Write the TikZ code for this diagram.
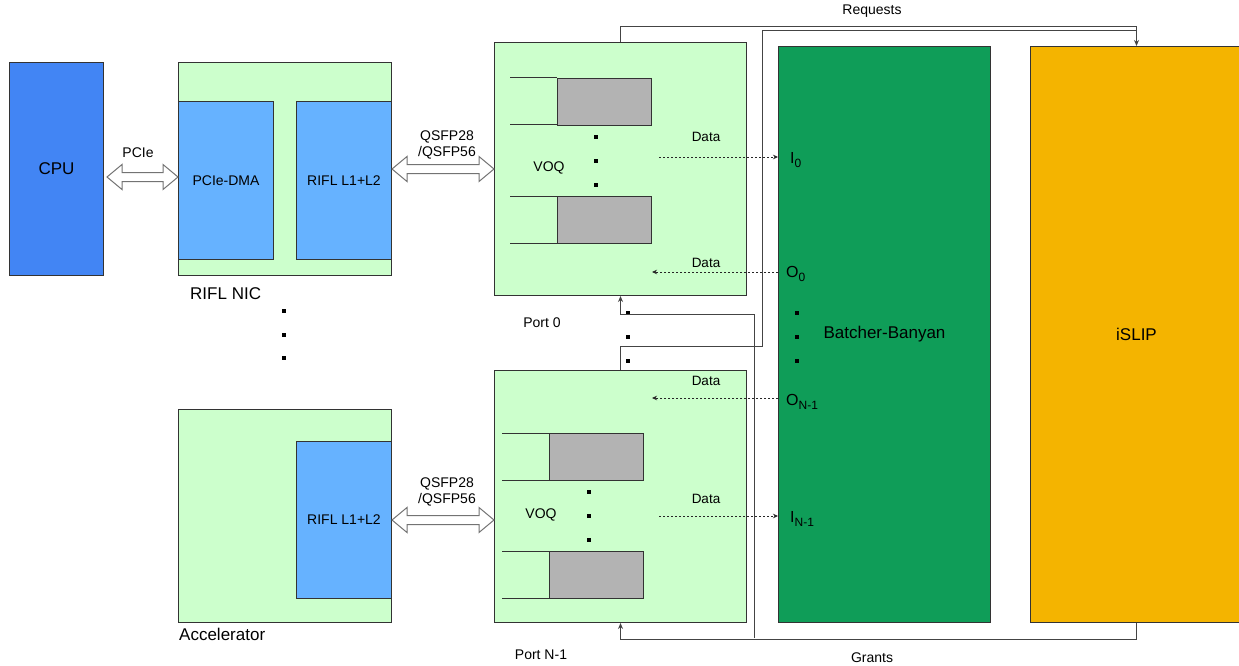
\documentclass[tikz,border=0pt]{standalone}
\usepackage{fontspec}
\setmainfont{Liberation Sans}
\usetikzlibrary{arrows.meta,calc}
\definecolor{cpublue}{HTML}{4285F4}
\definecolor{lgreen}{HTML}{CCFFCC}
\definecolor{inblue}{HTML}{66B2FF}
\definecolor{qgray}{HTML}{B3B3B3}
\definecolor{bgreen}{HTML}{0F9D58}
\definecolor{islipc}{HTML}{F4B400}
\definecolor{edge}{HTML}{333333}
\definecolor{wire}{HTML}{444444}
\newcommand\sqd[2]{\fill[black] (#1-2,#2-2) rectangle (#1+2,#2+2);}
\newcommand\fatarrow[2]{\draw[fatarr] let \p1=#1, \p2=#2 in
  (\x1,\y1) -- (\x1+15pt,\y1+12.5pt) -- (\x1+15pt,\y1+4.5pt) -- (\x2-15pt,\y1+4.5pt)
  -- (\x2-15pt,\y1+12.5pt) -- (\x2,\y1) -- (\x2-15pt,\y1-12.5pt) -- (\x2-15pt,\y1-4.5pt)
  -- (\x1+15pt,\y1-4.5pt) -- (\x1+15pt,\y1-12.5pt) -- cycle;}
\newcommand\subtxt[1]{\raisebox{-0.45ex}{\fontsize{12}{13}\selectfont #1}}
\begin{document}
\begin{tikzpicture}[x=1pt,y=-1pt,
  box/.style={draw=edge,line width=1pt,anchor=north west,inner sep=0pt,
    font=\fontsize{14}{16}\selectfont},
  lbl/.style={inner sep=0pt,font=\fontsize{14}{16}\selectfont},
  iolbl/.style={inner sep=0pt,font=\fontsize{16}{18}\selectfont},
  biglbl/.style={inner sep=0pt,font=\fontsize{17}{19}\selectfont},
  datalbl/.style={inner sep=0pt,font=\fontsize{13.5}{15}\selectfont},
  fatarr/.style={draw=black!55,fill=white,line width=1pt,line join=miter},
  wireln/.style={draw=wire,line width=1pt},
  wirearr/.style={wireln,-{Stealth[length=6pt,width=5pt]}},
  dataarr/.style={draw=black!85,line width=0.8pt,dash pattern=on 2pt off 2pt,
    -{Stealth[length=5pt,width=4.5pt]}},
  qbox/.style={draw=edge,line width=1pt,fill=qgray,anchor=north west,
    minimum width=94pt,minimum height=47pt,inner sep=0pt}
]
\useasboundingbox (0,0) rectangle (1239,666);

% CPU
\node[box,fill=cpublue,minimum width=94pt,minimum height=213pt,font=\fontsize{17}{19}\selectfont] (cpu) at (9,62) {CPU};

% RIFL NIC
\node[box,fill=lgreen,minimum width=213pt,minimum height=213pt] (nic) at (178,62) {};
\node[box,fill=inblue,minimum width=95pt,minimum height=158pt] (pcie) at (178,101) {PCIe-DMA};
\node[box,fill=inblue,minimum width=95pt,minimum height=158pt] (rifl1) at (296,101) {RIFL L1+L2};
\node[biglbl,anchor=west] (niclbl) at (190,294) {RIFL NIC};
\sqd{284}{311}\sqd{284}{335}\sqd{284}{358}

% Accelerator
\node[box,fill=lgreen,minimum width=213pt,minimum height=213pt] (acc) at (178,409) {};
\node[box,fill=inblue,minimum width=95pt,minimum height=157pt] (rifl2) at (296,441) {RIFL L1+L2};
\node[biglbl,anchor=west] (acclbl) at (179,634) {Accelerator};

% PCIe arrow
\coordinate (pa1) at (107,177);
\coordinate (pa2) at (nic.west |- pa1);
\fatarrow{(pa1)}{(pa2)}
\node[lbl] (pcielbl) at (138,153) {PCIe};

% Ports
\node[box,fill=lgreen,minimum width=252pt,minimum height=253pt] (port0) at (494,42) {};
\node[box,fill=lgreen,minimum width=252pt,minimum height=252pt] (port1) at (494,370) {};
\node[lbl] (p0lbl) at (542,323) {Port 0};
\node[lbl] (p1lbl) at (541,655) {Port N-1};

% QSFP arrows
\coordinate (qa1) at (rifl1.east |- port0.west);
\fatarrow{(qa1)}{(port0.west)}
\node[lbl,align=center] (q1lbl) at (447,145) {QSFP28\\/QSFP56};
\coordinate (qb2) at (port1.west |- rifl2.east);
\fatarrow{(rifl2.east)}{(qb2)}
\node[lbl,align=center] (q2lbl) at (447,492) {QSFP28\\/QSFP56};

% VOQ port 0
\draw[draw=edge,line width=1pt] (510,78) -- (557,78) (510,125) -- (557,125);
\node[qbox] (q01) at (557,78) {};
\draw[draw=edge,line width=1pt] (510,196) -- (557,196) (510,243) -- (557,243);
\node[qbox] (q02) at (557,196) {};
\sqd{596}{137}\sqd{596}{161}\sqd{596}{185}
\node[lbl] (voq0) at (549,168) {VOQ};

% VOQ port N-1
\draw[draw=edge,line width=1pt] (502,433) -- (549,433) (502,480) -- (549,480);
\node[qbox] (q11) at (549,433) {};
\draw[draw=edge,line width=1pt] (502,551) -- (549,551) (502,598) -- (549,598);
\node[qbox] (q12) at (549,551) {};
\sqd{589}{492}\sqd{589}{516}\sqd{589}{540}
\node[lbl] (voq1) at (541,515) {VOQ};

% dots between ports
\sqd{628}{313}\sqd{628}{337}\sqd{628}{361}

% Batcher-Banyan and iSLIP
\node[box,fill=bgreen,minimum width=212pt,minimum height=576pt,font=\fontsize{17}{19}\selectfont] (bb) at (778,46) {Batcher-Banyan};
\node[box,fill=islipc,minimum width=212pt,minimum height=576pt,font=\fontsize{17}{19}\selectfont] (islip) at (1030,46) {iSLIP};
\sqd{797}{313}\sqd{797}{337}\sqd{797}{361}

% port labels on Batcher-Banyan
\node[iolbl,anchor=west] (i0) at (790,160) {I\subtxt{0}};
\node[iolbl,anchor=west] (o0) at (786,274) {O\subtxt{0}};
\node[iolbl,anchor=west] (on) at (786,402) {O\subtxt{N-1}};
\node[iolbl,anchor=west] (in) at (790,519) {I\subtxt{N-1}};

% data arrows
\coordinate (d0s) at (659,157); \coordinate (d0e) at (bb.west |- d0s);
\draw[dataarr] (d0s) -- (d0e);
\node[datalbl] (dl1) at (706,137) {Data};
\coordinate (d1s) at (bb.west |- 0,272); \coordinate (d1e) at (652,272);
\draw[dataarr] (d1s) -- (d1e);
\node[datalbl] (dl2) at (706,263) {Data};
\coordinate (d2s) at (bb.west |- 0,398); \coordinate (d2e) at (652,398);
\draw[dataarr] (d2s) -- (d2e);
\node[datalbl] (dl3) at (706,381) {Data};
\coordinate (d3s) at (659,516); \coordinate (d3e) at (bb.west |- d3s);
\draw[dataarr] (d3s) -- (d3e);
\node[datalbl] (dl4) at (706,499) {Data};

% Requests
\draw[wirearr] (port0.north) -- ++(0,-15) -| (islip.north);
\coordinate (rq2) at (762,31);
\draw[wireln] (port1.north) -- ++(0,-24) -| (rq2) -- (islip.north |- rq2);
\node[lbl] (reqlbl) at (872,11) {Requests};

% Grants
\draw[wirearr] (islip.south) -- ++(0,16) -| (port1.south);
\coordinate (g1) at (754,638);
\draw[wirearr] (g1) -- ++(0,-324) -| (port0.south);
\node[lbl] (grlbl) at (872,658) {Grants};
\end{tikzpicture}
\end{document}
